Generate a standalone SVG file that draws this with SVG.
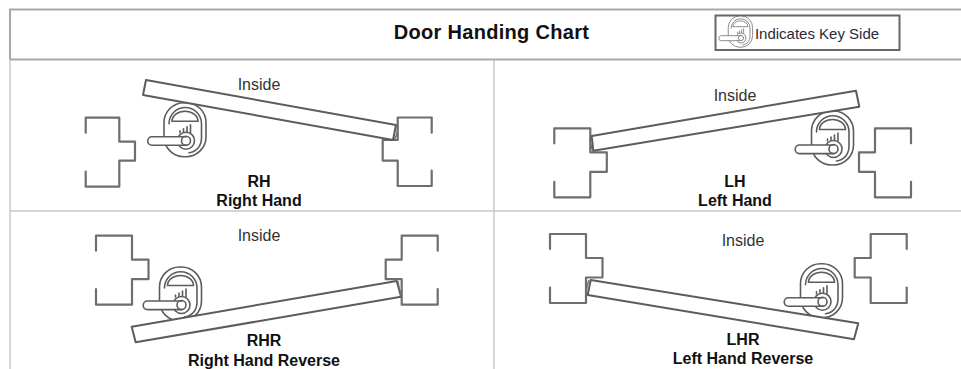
<svg xmlns="http://www.w3.org/2000/svg" width="961" height="369" viewBox="0 0 961 369">
<style>
text{font-family:"Liberation Sans",Arial,sans-serif;text-anchor:middle}
.grid{stroke:#c8c8c8;stroke-width:1.4;fill:none}
.top{stroke:#a9a9a9;stroke-width:2;fill:none}
.frame{fill:none;stroke:#6e6e6e;stroke-width:2.2;stroke-linejoin:round;stroke-linecap:round}
.door{fill:#fff;stroke:#5c5c5c;stroke-width:2;stroke-linejoin:round}
.wedge{fill:none;stroke:#6e6e6e;stroke-width:1.4}
.lbl{font-size:16px;font-weight:bold;fill:#111}
.in{font-size:16px;fill:#333}
.lk{fill:#fff;stroke:#5c5c5c;stroke-width:1.6}
.lkb{fill:none;stroke:#5c5c5c;stroke-width:1.6;stroke-linecap:round}
</style>
<defs>
<path id="fL" class="frame" d="M0 15V0H36V24H52.500V43.500H36V69H0V53.500"/>
<path id="fR" class="frame" d="M36 15V0H0V24H-16V43.500H0V69H36V53.500"/>
<g id="lock">
<rect class="lk" x="-22" y="-38" width="42" height="54" rx="20"/>
<path class="lkb" d="M-17 -17A15.500 15.500 0 0 1 15.500 -17V-3C15.500 6 10 11 3 12"/>
<path class="lk" d="M-14 -19.500A13 10 0 0 1 12 -19.500Z"/>
<path class="lkb" d="M-6 -10V-8M-2.500 -12V-8M1 -14V-8M4.500 -16V-8"/>
<circle class="lk" cx="0" cy="0" r="8.500"/>
<path class="lk" d="M1 -4H-34A4.300 4.300 0 0 0 -34 4.600H1"/>
<circle class="lkb" cx="0" cy="0" r="4.500"/>
</g>
</defs>
<g id="table">
<path class="grid" d="M10 60V369M494 60V369M10 211H961"/>
<path class="top" d="M10 59.500V9.500H961M10 59.500H961"/>
</g>
<g id="title"><text x="491.500" y="39" font-size="20" font-weight="bold" fill="#111" letter-spacing=".3">Door Handing Chart</text></g>
<g id="legend">
<rect x="715.500" y="15.500" width="184" height="34.500" fill="#fff" stroke="#666" stroke-width="2"/>
<use href="#lock" transform="translate(741 38) scale(.58)" opacity=".75"/>
<text x="817" y="38.500" font-size="15" fill="#2a2a3a">Indicates Key Side</text>
</g>
<g id="rh">
<path class="frame" d="M85.700 132.700V117.700H119.300V141.700H135V160.700H119.300V186.700H85.700V171.700"/>
<path class="frame" d="M431.700 132.700V117.500H397.700V140H382.700V160.700H397.700V186H431.700V170.700"/>
<use href="#lock" x="186" y="140.700"/>
<path class="door" d="M146 80L396 125L393 140L143 95Z"/>
<path class="wedge" d="M397.700 125Q398 134 394 140"/>
<text class="in" x="259" y="90">Inside</text>
<text class="lbl" x="259" y="186.500">RH</text><text class="lbl" x="259" y="206">Right Hand</text>
</g>
<g id="lh">
<use href="#fL" x="554.300" y="128.300"/><use href="#fR" x="875" y="128.300"/>
<use href="#lock" x="833.500" y="149"/>
<path class="door" d="M591.700 136L856 90.700L859.300 106.700L593.300 150.700Z"/>
<path class="wedge" d="M590 136.700Q590 145 593.300 151.700"/>
<text class="in" x="735" y="100.500">Inside</text>
<text class="lbl" x="735" y="186.500">LH</text><text class="lbl" x="735" y="206">Left Hand</text>
</g>
<g id="rhr">
<use href="#fL" x="96" y="235.700"/><use href="#fR" x="401.700" y="235.700"/>
<use href="#lock" x="181.500" y="305"/>
<path class="door" d="M131.700 326.700L396.700 281L401 296.700L135.700 342.300Z"/>
<path class="wedge" d="M398 281Q399 290 401.700 297"/>
<text class="in" x="259" y="241">Inside</text>
<text class="lbl" x="264" y="346">RHR</text><text class="lbl" x="264" y="365.500">Right Hand Reverse</text>
</g>
<g id="lhr">
<use href="#fL" x="550" y="234"/><use href="#fR" x="870.700" y="234"/>
<use href="#lock" x="822.500" y="301.700"/>
<path class="door" d="M590.700 280L858.300 323.300L854 339.300L587.700 295Z"/>
<path class="wedge" d="M589 280Q586 288 586.500 295"/>
<text class="in" x="743" y="245.500">Inside</text>
<text class="lbl" x="743" y="345">LHR</text><text class="lbl" x="743" y="363.500">Left Hand Reverse</text>
</g>
</svg>
